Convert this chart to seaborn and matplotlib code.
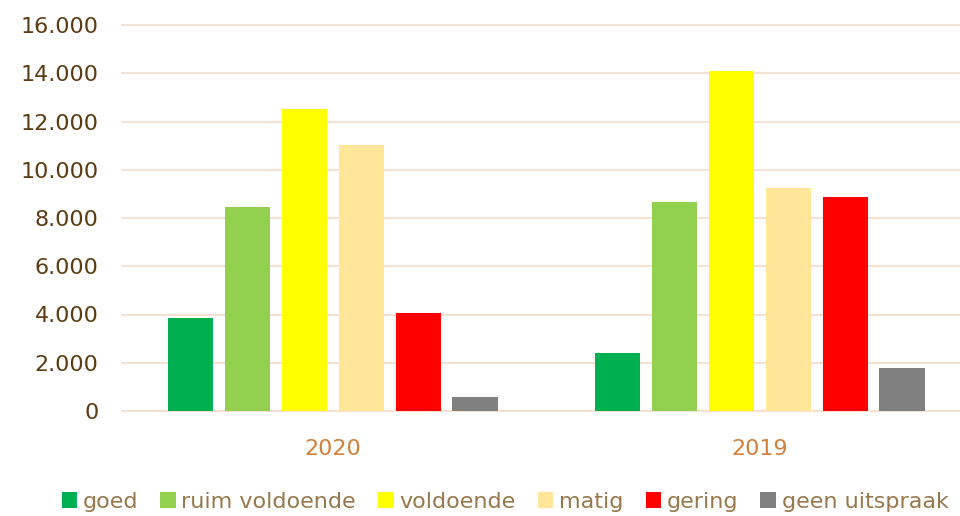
import pandas as pd
import matplotlib.pyplot as plt
import seaborn as sns

# Data
years = ['2020', '2019']
categories = ['goed', 'ruim voldoende', 'voldoende', 'matig', 'gering', 'geen uitspraak']
values_2020 = [3850, 8450, 12500, 11030, 4070, 580]
values_2019 = [2400, 8660, 14090, 9240, 8870, 1780]
colors = ['#00B050', '#92D050', '#FFFF00', '#FFE699', '#FF0000', '#808080']

df = pd.DataFrame({
    'jaar': [years[0]] * len(categories) + [years[1]] * len(categories),
    'oordeel': categories + categories,
    'aantal': values_2020 + values_2019,
})

sns.set_style('white')
plt.rcParams['font.family'] = ['DejaVu Sans']

fig = plt.figure(figsize=(9.6, 5.16), dpi=100)
ax = fig.add_axes([122 / 960, 105 / 516, 854 / 960, 386 / 516])

sns.barplot(data=df, x='jaar', y='aantal', hue='oordeel', order=years,
            hue_order=categories, palette=colors, saturation=1, width=0.8,
            gap=0.2, edgecolor='none', ax=ax, legend=True)

ax.set_xlim(-0.494, 1.506)
ax.set_ylim(0, 16000)
ax.set_yticks(range(0, 16001, 2000))
ax.set_yticklabels([f'{v:,}'.replace(',', '.') for v in range(0, 16001, 2000)])
ax.yaxis.grid(True, color='#F4E1D2', linewidth=1.5)
for line in ax.get_ygridlines():
    line.set_clip_on(False)
ax.set_axisbelow(True)
for s in ax.spines.values():
    s.set_visible(False)

ax.tick_params(axis='y', length=0, pad=17, labelsize=16, labelcolor='#5C3A12')
ax.tick_params(axis='x', length=0, pad=20, labelsize=16, labelcolor='#D0803A')
ax.set_xlabel('')
ax.set_ylabel('')

handles, labels = ax.get_legend_handles_labels()
ax.get_legend().remove()
fig.legend(handles, labels, loc='center', bbox_to_anchor=(505 / 960, 14 / 516),
           ncol=6, frameon=False, fontsize=16, labelcolor='#98784A',
           handlelength=0.7, handleheight=0.7, handletextpad=0.25,
           columnspacing=1.0, borderaxespad=0)

fig.savefig('out.png', dpi=100)
